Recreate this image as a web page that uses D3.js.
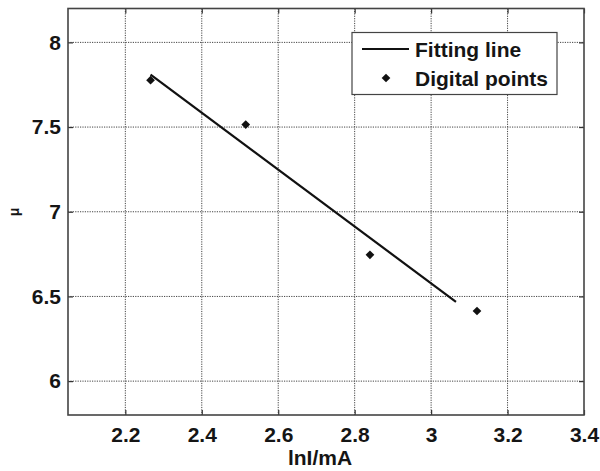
<!DOCTYPE html>
<html><head><meta charset="utf-8">
<script src="https://cdn.jsdelivr.net/npm/d3@7"></script>
<style>body{margin:0;background:#fff}svg{display:block}text{font-family:"Liberation Sans",Arial,sans-serif;font-weight:bold;fill:#151515}</style>
</head><body>
<script>
const pointX = [2.266, 2.515, 2.84, 3.12];
const pointY = [7.777, 7.515, 6.746, 6.414];
const fitX = [2.266, 3.065];
const fitY = [7.81, 6.468];
const xTicks = [2.2, 2.4, 2.6, 2.8, 3.0, 3.2, 3.4];
const yTicks = [6, 6.5, 7, 7.5, 8];
const xTickLabels = ["2.2", "2.4", "2.6", "2.8", "3", "3.2", "3.4"];
const yTickLabels = ["6", "6.5", "7", "7.5", "8"];
const legendLabels = ["Fitting line", "Digital points"];

const W = 600, H = 471;
const L = 68, R = 584, T = 8.5, B = 415;
const FS = 21;
const svg = d3.select("body").append("svg").attr("width", W).attr("height", H);
const x = d3.scaleLinear().domain([2.05, 3.4]).range([L, R]);
const y = d3.scaleLinear().domain([5.8, 8.2]).range([B, T]);

// grid
const grid = svg.append("g").attr("stroke", "#444").attr("stroke-width", 1).attr("stroke-dasharray", "1.2,1.2");
grid.selectAll("line.gx").data(xTicks.filter(v => v < 3.39)).enter().append("line")
  .attr("x1", d => x(d)).attr("x2", d => x(d)).attr("y1", T).attr("y2", B);
grid.selectAll("line.gy").data(yTicks).enter().append("line")
  .attr("y1", d => y(d)).attr("y2", d => y(d)).attr("x1", L).attr("x2", R);

// axes via d3
const xAxis = d3.axisBottom(x).tickValues(xTicks).tickSize(-5).tickPadding(12).tickFormat((d, i) => xTickLabels[i]);
const yAxis = d3.axisLeft(y).tickValues(yTicks).tickSize(-5).tickPadding(7).tickFormat((d, i) => yTickLabels[i]);
const xTop = d3.axisTop(x).tickValues(xTicks).tickSize(-5).tickFormat("");
const yRight = d3.axisRight(y).tickValues(yTicks).tickSize(-5).tickFormat("");

function style(g) {
  g.select(".domain").remove();
  g.selectAll(".tick line").attr("stroke", "#333").attr("stroke-width", 1.2);
  g.selectAll("text").attr("font-size", FS).attr("fill", "#151515").attr("font-family", '"Liberation Sans",Arial,sans-serif').attr("font-weight", "bold");
}
svg.append("g").attr("transform", `translate(0,${B})`).call(xAxis).call(style);
svg.append("g").attr("transform", `translate(${L},0)`).call(yAxis).call(style);
svg.append("g").attr("transform", `translate(0,${T})`).call(xTop).call(style);
svg.append("g").attr("transform", `translate(${R},0)`).call(yRight).call(style);

// frame
svg.append("rect").attr("x", L).attr("y", T).attr("width", R - L).attr("height", B - T)
  .attr("fill", "none").attr("stroke", "#444").attr("stroke-width", 1.6);

// fitting line
svg.append("path").datum(fitX.map((v, i) => [v, fitY[i]]))
  .attr("d", d3.line().x(d => x(d[0])).y(d => y(d[1])))
  .attr("fill", "none").attr("stroke", "#111").attr("stroke-width", 2.2);

// points
const sym = d3.symbol().type(d3.symbolSquare).size(38);
svg.selectAll("path.pt").data(pointX.map((v, i) => [v, pointY[i]])).enter().append("path")
  .attr("class", "pt").attr("d", sym)
  .attr("transform", d => `translate(${x(d[0])},${y(d[1])}) rotate(45)`)
  .attr("fill", "#111");

// legend
const lg = svg.append("g");
lg.append("rect").attr("x", 352).attr("y", 32.5).attr("width", 205).attr("height", 62)
  .attr("fill", "#fff").attr("stroke", "#444").attr("stroke-width", 1.2);
lg.append("line").attr("x1", 362).attr("x2", 409).attr("y1", 49).attr("y2", 49).attr("stroke", "#111").attr("stroke-width", 2.2);
lg.append("path").attr("d", sym).attr("transform", "translate(386,78) rotate(45)").attr("fill", "#111");
lg.selectAll("text").data(legendLabels).enter().append("text")
  .attr("x", 415).attr("y", (d, i) => 57 + i * 29).attr("font-size", FS).text(d => d);

// axis labels
svg.append("text").attr("x", 320).attr("y", 465).attr("text-anchor", "middle").attr("font-size", FS).text("lnI/mA");
svg.append("text").attr("transform", "translate(19,212) rotate(-90)").attr("text-anchor", "middle").attr("font-size", 14).attr("font-weight", "normal").text("μ");
</script>
</body></html>
